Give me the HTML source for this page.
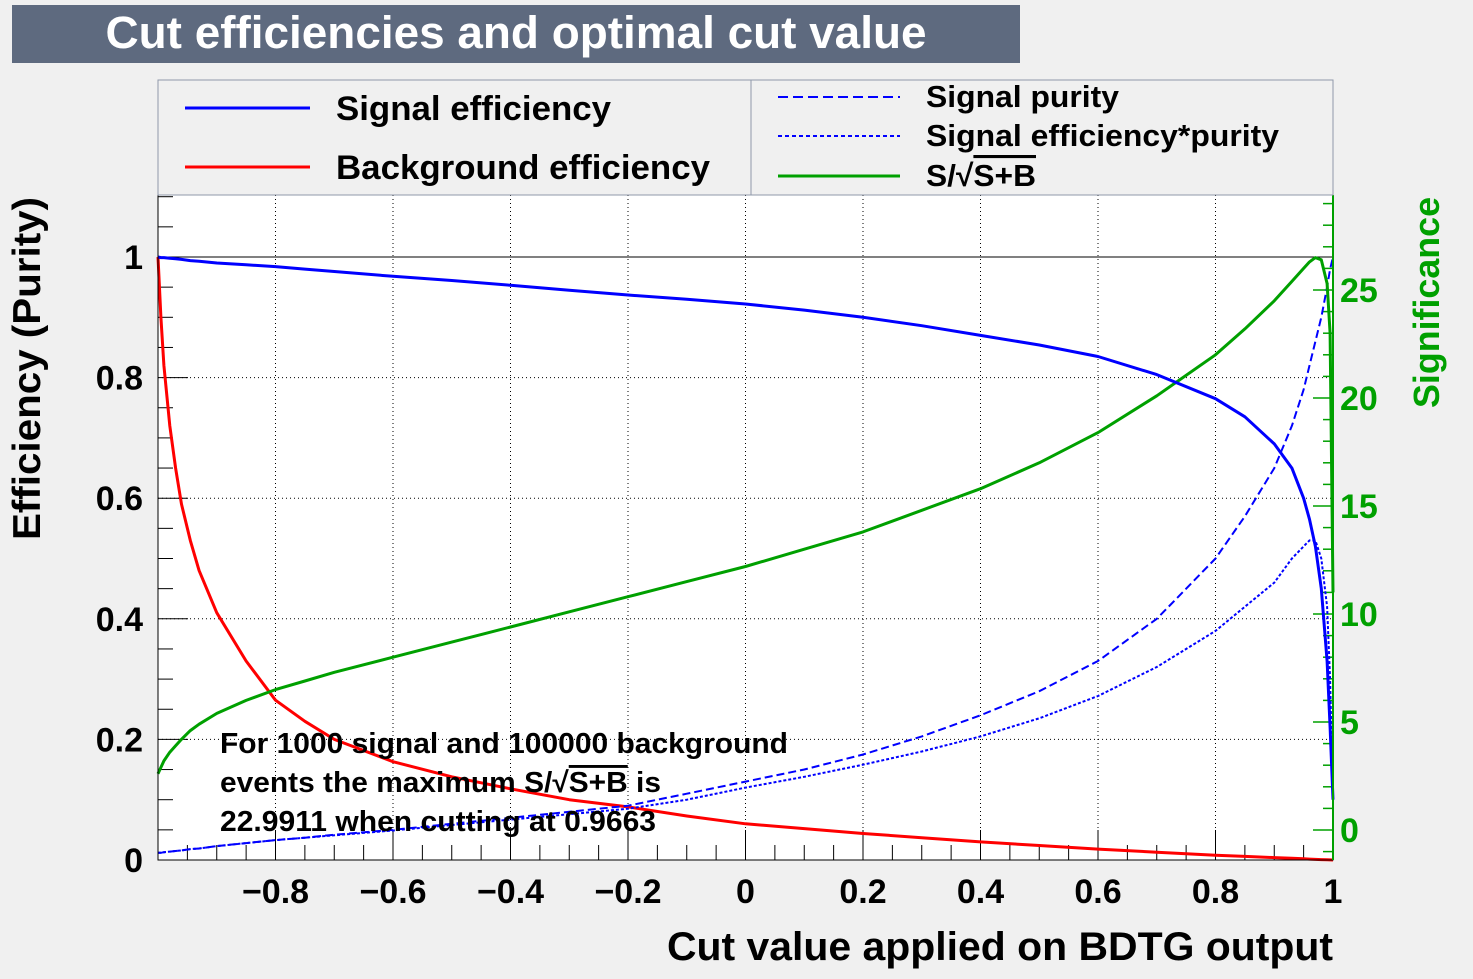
<!DOCTYPE html>
<html><head><meta charset="utf-8"><style>
body{margin:0;background:#f0f0f0;}
svg text{font-family:"Liberation Sans",sans-serif;font-weight:bold;}
.ov{text-decoration:overline;}
</style></head><body>
<svg width="1473" height="974" xmlns="http://www.w3.org/2000/svg">
<rect x="0" y="0" width="1473" height="974" fill="#f0f0f0"/>
<rect x="12" y="5" width="1008" height="58" fill="#5e6a7f"/>
<text x="516" y="48" font-size="45" fill="#fff" text-anchor="middle" textLength="821" lengthAdjust="spacingAndGlyphs">Cut efficiencies and optimal cut value</text>
<rect x="158" y="195" width="1175" height="665" fill="#fff"/>
<g id="grid"></g>
<g id="ticks"></g>
<g id="series"></g>
<rect x="158" y="195" width="1175" height="665" fill="none" stroke="#000" stroke-width="1"/>
<line x1="1333" y1="195" x2="1333" y2="860" stroke="#00a000" stroke-width="2"/>
<g id="labels"></g>
<text x="1333" y="960" font-size="40" text-anchor="end" textLength="666" lengthAdjust="spacingAndGlyphs">Cut value applied on BDTG output</text>
<text transform="translate(40,540) rotate(-90)" font-size="39" textLength="343" lengthAdjust="spacingAndGlyphs">Efficiency (Purity)</text>
<text transform="translate(1439,408) rotate(-90)" font-size="36" fill="#00a000" textLength="211" lengthAdjust="spacingAndGlyphs">Significance</text>
<g font-size="29">
<text x="220" y="753" textLength="568" lengthAdjust="spacingAndGlyphs">For 1000 signal and 100000 background</text>
<text x="220" y="792" textLength="441" lengthAdjust="spacingAndGlyphs">events the maximum S/√<tspan class="ov">S+B</tspan> is</text>
<text x="220" y="831" textLength="436" lengthAdjust="spacingAndGlyphs">22.9911 when cutting at 0.9663</text>
</g>
<g>
<rect x="158" y="80" width="1175" height="115" fill="#f0f0f0" stroke="#8f99aa" stroke-width="1"/>
<line x1="751" y1="80" x2="751" y2="195" stroke="#8f99aa" stroke-width="1"/>
<g><line x1="185" y1="108" x2="310" y2="108" stroke="#0000ff" stroke-width="3"/><text x="336" y="120" font-size="34" textLength="275" lengthAdjust="spacingAndGlyphs">Signal efficiency</text></g>
<g><line x1="185" y1="167" x2="310" y2="167" stroke="#ff0000" stroke-width="3"/><text x="336" y="179" font-size="34" textLength="374" lengthAdjust="spacingAndGlyphs">Background efficiency</text></g>
<g><line x1="778" y1="97" x2="900" y2="97" stroke="#0000ff" stroke-width="2" stroke-dasharray="10,5"/><text x="926" y="107" font-size="31" textLength="193" lengthAdjust="spacingAndGlyphs">Signal purity</text></g>
<g><line x1="778" y1="136" x2="900" y2="136" stroke="#0000ff" stroke-width="2" stroke-dasharray="4,3"/><text x="926" y="146" font-size="31" textLength="353" lengthAdjust="spacingAndGlyphs">Signal efficiency*purity</text></g>
<g><line x1="778" y1="176" x2="900" y2="176" stroke="#00a000" stroke-width="3"/><text x="926" y="186" font-size="31" textLength="110" lengthAdjust="spacingAndGlyphs">S/√<tspan class="ov">S+B</tspan></text></g>
</g>
</svg>
<script>
const xs=[-1,-0.995,-0.99,-0.98,-0.97,-0.96,-0.945,-0.93,-0.9,-0.85,-0.8,-0.75,-0.7,-0.6,-0.5,-0.4,-0.3,-0.2,-0.1,0,0.1,0.2,0.3,0.4,0.5,0.6,0.7,0.8,0.85,0.9,0.93,0.95,0.96,0.97,0.98,0.99,0.995,1.0];
const sigEff=[1.0,0.999,0.999,0.998,0.997,0.996,0.994,0.993,0.99,0.987,0.984,0.98,0.976,0.968,0.961,0.953,0.945,0.937,0.93,0.922,0.912,0.9,0.886,0.87,0.854,0.835,0.805,0.765,0.735,0.69,0.65,0.6,0.565,0.52,0.45,0.33,0.22,0.1];
const bkgEff=[1.0,0.9,0.82,0.72,0.65,0.59,0.53,0.48,0.41,0.33,0.265,0.23,0.2,0.163,0.138,0.118,0.1,0.088,0.073,0.06,0.052,0.044,0.037,0.03,0.024,0.018,0.013,0.008,0.006,0.004,0.003,0.002,0.0015,0.001,0.0007,0.0004,0.0002,0];
const purity=[0.012,0.012,0.013,0.014,0.015,0.016,0.018,0.019,0.023,0.028,0.033,0.037,0.042,0.05,0.06,0.07,0.08,0.09,0.11,0.13,0.15,0.175,0.205,0.24,0.28,0.33,0.4,0.5,0.57,0.65,0.72,0.78,0.82,0.86,0.9,0.95,0.98,1.0];
const effPur=[0.012,0.012,0.013,0.014,0.015,0.016,0.018,0.019,0.023,0.028,0.033,0.037,0.041,0.049,0.058,0.067,0.076,0.085,0.1,0.12,0.138,0.158,0.18,0.205,0.235,0.272,0.32,0.38,0.42,0.46,0.5,0.52,0.53,0.53,0.5,0.42,0.3,0.1];
const signif=[2.6,2.9,3.2,3.6,3.9,4.2,4.6,4.9,5.4,6.0,6.5,6.9,7.3,8.0,8.7,9.4,10.1,10.8,11.5,12.2,13.0,13.8,14.8,15.8,17.0,18.4,20.1,22.0,23.2,24.5,25.4,26.0,26.3,26.5,26.4,25.3,23,11];
const xTicks=[-0.8,-0.6,-0.4,-0.2,0,0.2,0.4,0.6,0.8,1];
const xTickLabels=["−0.8","−0.6","−0.4","−0.2","0","0.2","0.4","0.6","0.8","1"];
const yTicks=[0,0.2,0.4,0.6,0.8,1];
const yTickLabels=["0","0.2","0.4","0.6","0.8","1"];
const rTicks=[0,5,10,15,20,25];
const rTickLabels=["0","5","10","15","20","25"];
const NS="http://www.w3.org/2000/svg";
const X0=158,X1=1333,Y0=860,Y1=257;
const sx=v=>X0+(v+1)/2*(X1-X0);
const sy=v=>Y0-v*(Y0-Y1);
const sr=v=>830-v*21.6;
function mk(tag,attrs,parent){const e=document.createElementNS(NS,tag);for(const k in attrs)e.setAttribute(k,attrs[k]);document.getElementById(parent).appendChild(e);return e;}
xTicks.forEach((t,i)=>{
 if(t<1){const g=mk('line',{x1:sx(t),x2:sx(t),y1:195,y2:860,stroke:'#000','stroke-width':1,'stroke-dasharray':'1,3'},'grid');
 
 }
 const l=mk('text',{x:sx(t),y:903,'font-size':34,'text-anchor':'middle'},'labels');l.textContent=xTickLabels[i];
 
 
});
for(let v=-0.95;v<1;v+=0.05){const maj=Math.abs(v*5-Math.round(v*5))<1e-6;
 const t=mk('line',{x1:sx(v),x2:sx(v),y1:860,y2:860-(maj?30:15),stroke:'#000','stroke-width':1},'ticks');
 
 }
yTicks.forEach((t,i)=>{
 if(t>0){const g=mk('line',{x1:158,x2:1333,y1:sy(t),y2:sy(t),stroke:'#000','stroke-width':1,'stroke-dasharray':t===1?'none':'1,3'},'grid');
 
 }
 const l=mk('text',{x:143,y:sy(t)+12,'font-size':34,'text-anchor':'end'},'labels');l.textContent=yTickLabels[i];
 
 
});
for(let k=0;k<=22;k++){const v=k*0.05;const maj=k%4===0;
 const t=mk('line',{x1:158,x2:158+(maj?30:15),y1:sy(v),y2:sy(v),stroke:'#000','stroke-width':1},'ticks');
 
 }
rTicks.forEach((t,i)=>{
 const l=mk('text',{x:1340,y:sr(t)+12,'font-size':34,fill:'#00a000'},'labels');l.textContent=rTickLabels[i];
 
 
});
for(let v=-1;v<=29;v++){const maj=v%5===0;
 const t=mk('line',{x1:1333,x2:1333-(maj?20:10),y1:sr(v),y2:sr(v),stroke:'#00a000','stroke-width':1.5},'ticks');
 
 }
function path(ys,f,col,w,dash,name){
 const d=xs.map((x,i)=>(i?'L':'M')+sx(x).toFixed(1)+','+f(ys[i]).toFixed(1)).join(' ');
 const p=mk('path',{d:d,fill:'none',stroke:col,'stroke-width':w,'stroke-dasharray':dash,'stroke-linejoin':'round'},'series');
 
 
}
path(bkgEff,sy,'#ff0000',3,'none','background-efficiency-line');
path(purity,sy,'#0000ff',2,'8,4','signal-purity-line');
path(effPur,sy,'#0000ff',2,'3,2','efficiency-purity-line');
path(signif,sr,'#00a000',3,'none','significance-line');
path(sigEff,sy,'#0000ff',3,'none','signal-efficiency-line');
</script>
</body></html>
